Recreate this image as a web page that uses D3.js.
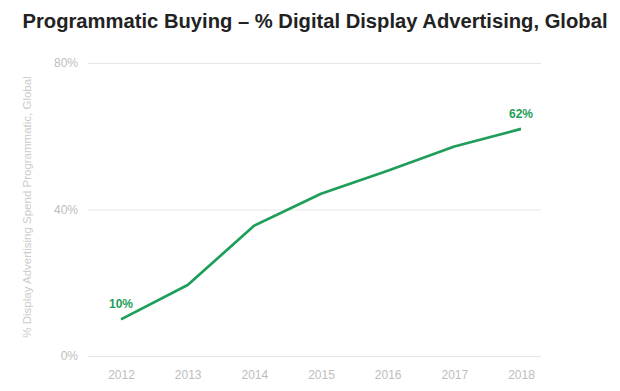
<!DOCTYPE html>
<html><head><meta charset="utf-8">
<script src="https://cdn.jsdelivr.net/npm/d3@7"></script>
<style>body{margin:0;background:#fff;}svg{display:block;font-family:"Liberation Sans",Arial,sans-serif;}</style>
</head><body><svg id="c" width="620" height="391"></svg>
<script>
const years = ["2012","2013","2014","2015","2016","2017","2018"];
const values = [10, 19.4, 35.6, 44.3, 50.6, 57.2, 62];
const yTicks = [0, 40, 80];
const labeledIdx = [0, 6];

const svg = d3.select("#c");
const x = d3.scalePoint().domain(years).range([121, 521]);
const y = d3.scaleLinear().domain([0, 80]).range([356, 63]);

svg.append("text").attr("x", 315).attr("y", 28).attr("text-anchor", "middle")
  .attr("font-size", 19.5).attr("font-weight", "bold").attr("fill", "#222")
  .attr("textLength", 585).attr("lengthAdjust", "spacingAndGlyphs")
  .text("Programmatic Buying – % Digital Display Advertising, Global");

const yAxis = d3.axisLeft(y).tickValues(yTicks).tickSize(-453).tickFormat(d => d + "%").tickPadding(10);
const gy = svg.append("g").attr("transform", "translate(88,0)").call(yAxis);
gy.select(".domain").remove();
gy.selectAll(".tick line").attr("stroke", "#e6e6e6");
gy.selectAll(".tick text").attr("fill", "#bdbdbd").attr("font-size", 12).attr("font-family", "Liberation Sans, Arial, sans-serif");

const xAxis = d3.axisBottom(x).tickSize(0).tickPadding(9);
const gx = svg.append("g").attr("transform", "translate(0,361)").call(xAxis);
gx.select(".domain").remove();
gx.selectAll(".tick text").attr("fill", "#bdbdbd").attr("font-size", 12).attr("font-family", "Liberation Sans, Arial, sans-serif");

svg.append("text").attr("transform", "translate(31,207) rotate(-90)").attr("text-anchor", "middle")
  .attr("font-size", 11.5).attr("fill", "#cccccc").text("% Display Advertising Spend Programmatic, Global");

const line = d3.line().x((d, i) => x(years[i])).y(d => y(d));
svg.append("path").datum(values).attr("d", line).attr("fill", "none")
  .attr("stroke", "#1e9e58").attr("stroke-width", 2.7).attr("stroke-linejoin", "round");

svg.selectAll(".lbl").data(labeledIdx).enter().append("text")
  .attr("x", i => x(years[i])).attr("y", i => y(values[i]) - 11)
  .attr("text-anchor", "middle").attr("font-size", 12).attr("font-weight", "bold")
  .attr("fill", "#1e9e58").text(i => Math.round(values[i]) + "%");
</script></body></html>
